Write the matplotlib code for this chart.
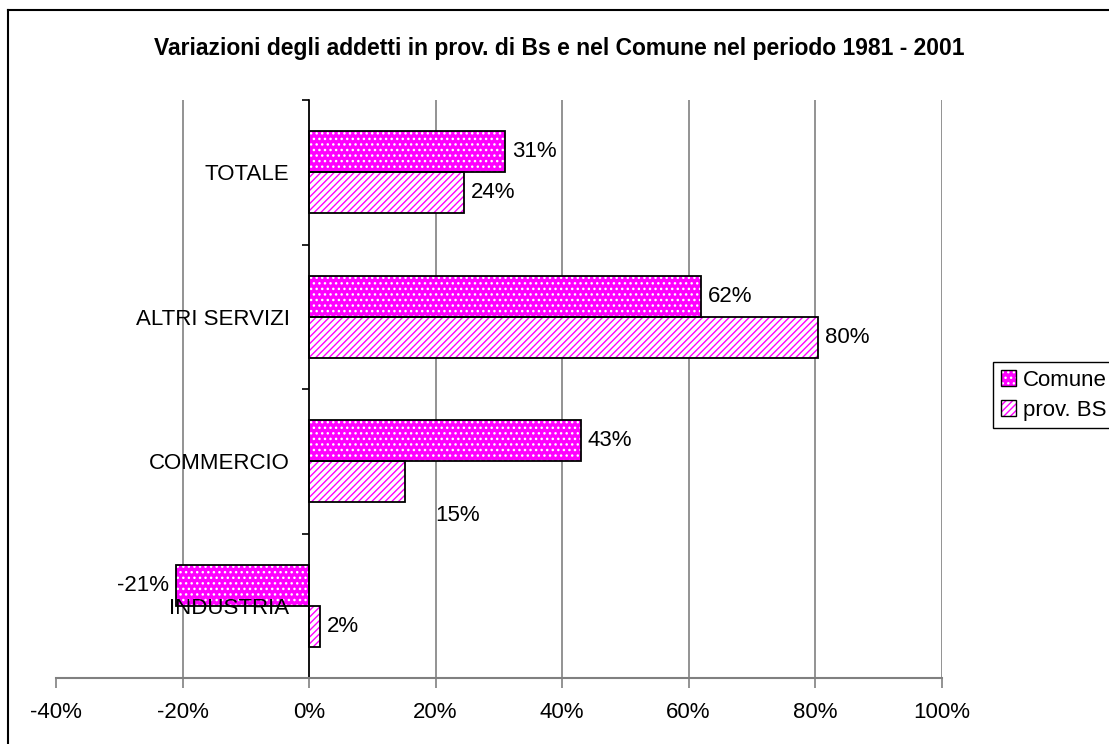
import numpy as np
import matplotlib
matplotlib.use('Agg')
import matplotlib.pyplot as plt
from matplotlib.patches import Patch
from matplotlib.legend_handler import HandlerTuple
from matplotlib.lines import Line2D

# data
categorie = ['TOTALE', 'ALTRI SERVIZI', 'COMMERCIO', 'INDUSTRIA']
comune = [0.31, 0.62, 0.43, -0.21]
prov_bs = [0.245, 0.805, 0.152, 0.017]
etichette_comune = ['31%', '62%', '43%', '-21%']
etichette_prov = ['24%', '80%', '15%', '2%']
xticks = [-0.4, -0.2, 0.0, 0.2, 0.4, 0.6, 0.8, 1.0]
xtick_labels = ['-40%', '-20%', '0%', '20%', '40%', '60%', '80%', '100%']

plt.rcParams['font.family'] = ['Liberation Sans', 'DejaVu Sans']
plt.rcParams['hatch.linewidth'] = 1.0

magenta = '#FF00FF'
fs = 16
fig = plt.figure(figsize=(11.09, 7.44), dpi=100)
ax = fig.add_axes([56 / 1109, 1 - 678 / 744, (941.5 - 56) / 1109, 578 / 744])

n = len(categorie)
y = np.arange(n)
h = 0.284

# Comune: magenta with white dots
ax.barh(y - h / 2, comune, height=h, color=magenta, edgecolor='white', hatch='...', linewidth=0, zorder=1)
ax.barh(y - h / 2, comune, height=h, fill=False, edgecolor='black', linewidth=1.3, zorder=1.2)
# prov. BS: white with magenta diagonal stripes
ax.barh(y + h / 2, prov_bs, height=h, color='white', edgecolor=magenta, hatch='/////', linewidth=0, zorder=1)
ax.barh(y + h / 2, prov_bs, height=h, fill=False, edgecolor='black', linewidth=1.3, zorder=1.2)

# data labels
for i in range(n):
    v = comune[i]
    if v >= 0:
        ax.annotate(etichette_comune[i], (v, y[i] - h / 2), xytext=(7, 0), textcoords='offset pixels',
                    ha='left', va='center', fontsize=fs, zorder=5)
    else:
        ax.annotate(etichette_comune[i], (v, y[i] - h / 2), xytext=(-7, 0), textcoords='offset pixels',
                    ha='right', va='center', fontsize=fs, zorder=5)
    v = prov_bs[i]
    if etichette_prov[i] == '15%':
        # label sits displaced in the original
        ax.annotate(etichette_prov[i], (v, y[i] + h / 2), xytext=(30, -34), textcoords='offset pixels',
                    ha='left', va='center', fontsize=fs, zorder=5)
    else:
        ax.annotate(etichette_prov[i], (v, y[i] + h / 2), xytext=(7, 0), textcoords='offset pixels',
                    ha='left', va='center', fontsize=fs, zorder=5)

ax.set_xlim(-0.4, 1.0)
ax.set_ylim(n - 0.5, -0.5)

# gridlines
ax.vlines(xticks[1:], -0.5, n - 0.5, colors='#808080', linewidth=1.2, zorder=0.5)

ax.set_xticks(xticks)
ax.set_xticklabels(xtick_labels, fontsize=fs)
ax.tick_params(axis='x', direction='out', length=7, width=1.2, color='#808080', pad=10)

# category axis at zero
ax.spines['left'].set_position(('data', 0))
ax.spines['left'].set_color('black')
ax.spines['left'].set_linewidth(1.2)
ax.spines['bottom'].set_color('#808080')
ax.spines['bottom'].set_linewidth(1.5)
ax.spines['top'].set_visible(False)
ax.spines['right'].set_visible(False)
ax.set_yticks(np.arange(n + 1) - 0.5)
ax.set_yticklabels([])
ax.set_yticks(y, minor=True)
ax.set_yticklabels(categorie, minor=True, fontsize=fs)
ax.tick_params(axis='y', which='major', direction='out', length=5, width=1.2)
ax.tick_params(axis='y', which='minor', length=0, pad=14)
ax.patch.set_alpha(0)

fig.text(559 / 1109, 1 - 48 / 744, 'Variazioni degli addetti in prov. di Bs e nel Comune nel periodo 1981 - 2001',
         ha='center', va='center', fontsize=16.5, fontweight='bold')

# legend
h_com = (Patch(facecolor=magenta, edgecolor='white', hatch='...', linewidth=0),
         Patch(fill=False, edgecolor='black', linewidth=1))
h_prov = (Patch(facecolor='white', edgecolor=magenta, hatch='/////', linewidth=0),
          Patch(fill=False, edgecolor='black', linewidth=1))
leg = fig.legend([h_com, h_prov], ['Comune', 'prov. BS'], handler_map={tuple: HandlerTuple(ndivide=1)},
                 loc='upper left', bbox_to_anchor=(993 / 1109, 1 - 362 / 744), fontsize=fs,
                 handlelength=0.7, handleheight=0.7, handletextpad=0.3, borderpad=0.35,
                 labelspacing=0.4, fancybox=False, framealpha=1, borderaxespad=0)
leg.get_frame().set_edgecolor('black')
leg.get_frame().set_linewidth(1)

# outer border
fig.add_artist(Line2D([8 / 1109, 8 / 1109], [0, 1 - 10 / 744], color='black', linewidth=1.5))
fig.add_artist(Line2D([8 / 1109, 1], [1 - 10 / 744, 1 - 10 / 744], color='black', linewidth=1.5))

fig.savefig('out.png', dpi=100)
